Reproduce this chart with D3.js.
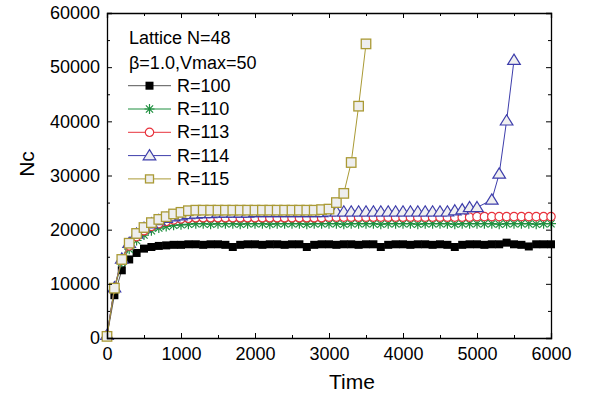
<!DOCTYPE html>
<html>
<head>
<meta charset="utf-8">
<script src="https://cdn.jsdelivr.net/npm/d3@7"></script>
<style>
  body { margin: 0; background: #fff; }
  svg { font-family: "Liberation Sans", Arial, sans-serif; }
  .axis path, .axis line { stroke: #000; }
  .axis text { font-size: 18px; fill: #000; }
</style>
</head>
<body>
<svg id="chart" width="594" height="399"></svg>
<script>
// time steps (shared by all series)
const times = [0,100,200,300,400,500,600,700,800,900,1000,1100,1200,1300,1400,1500,1600,1700,1800,1900,
  2000,2100,2200,2300,2400,2500,2600,2700,2800,2900,3000,3100,3200,3300,3400,3500,3600,3700,3800,3900,
  4000,4100,4200,4300,4400,4500,4600,4700,4800,4900,5000,5100,5200,5300,5400,5500,5600,5700,5800,5900,6000];

const r100 = [400,7900,12500,14500,15700,16500,16800,17000,17100,17200,17200,17300,17300,17200,17300,17300,17200,16800,17200,17300,
  17300,17200,17300,17300,17200,17300,17300,16800,17200,17300,17300,17200,17300,17300,17200,17300,17300,16800,17200,17300,
  17300,17200,17300,17300,17200,17300,17200,16800,17200,17300,17300,17200,17300,17300,17600,17300,17200,16900,17300,17300,17300];

const r110 = [500,9000,14000,16400,18000,19000,19800,20300,20600,20800,20900,21000,21100,21100,21000,21100,21100,21100,21000,21100,
  21100,21100,21000,21100,21100,21100,21100,21000,21100,21100,21100,21100,21000,21100,21100,21100,21100,21000,21100,21100,
  21100,21100,21000,21100,21100,21100,21100,21000,21100,21100,21100,21100,21100,21000,21100,21100,21100,21100,21000,21100,21100];

const r113 = [500,9100,14400,17000,18700,19800,20600,21100,21500,21800,22000,22100,22200,22200,22200,22200,22200,22200,22200,22200,
  22200,22200,22200,22200,22200,22200,22200,22200,22200,22200,22300,22300,22300,22300,22300,22300,22300,22300,22300,22300,
  22300,22300,22300,22300,22300,22300,22300,22300,22300,22300,22400,22400,22400,22400,22400,22400,22400,22400,22400,22400,22400];

const r114 = [500,9300,14600,17500,19200,20300,21100,21700,22100,22400,22600,22800,22900,23000,23000,23100,23100,23100,23100,23100,
  23200,23200,23200,23200,23200,23200,23200,23200,23200,23200,23300,23300,23300,23300,23300,23300,23300,23300,23300,23300,
  23300,23300,23300,23300,23300,23300,23300,23500,23700,24100,24100,null,25500,30300,40100,51300];

const r115 = [300,9200,14500,17500,19300,20400,21300,21900,22400,22900,23200,23500,23600,23600,23600,23600,23600,23600,23600,23600,
  23600,23600,23600,23600,23600,23600,23600,23600,23600,23700,23800,25000,26700,32400,42800,54300];

const seriesNames = ["R=100","R=110","R=113","R=114","R=115"];
const seriesValues = [r100, r110, r113, r114, r115];

const xTicks = [0,1000,2000,3000,4000,5000,6000];
const yTicks = [0,10000,20000,30000,40000,50000,60000];
const legendTitle = ["Lattice N=48", "\u03b2=1.0,Vmax=50"];

const styles = [
  { line: "#555", stroke: "#000", fill: "#000", shape: "square", size: 8 },
  { line: "#1f8f3f", stroke: "#1f8f3f", fill: "none", shape: "star", size: 5 },
  { line: "#e8323c", stroke: "#e8323c", fill: "#fff", shape: "circle", size: 4.2 },
  { line: "#3d3dab", stroke: "#3d3dab", fill: "#f0f0f0", shape: "triangle", size: 6 },
  { line: "#aa9a35", stroke: "#aa9a35", fill: "#eeeeee", shape: "square", size: 9.5 }
];

const svg = d3.select("#chart");
const x = d3.scaleLinear().domain([0, 6000]).range([107, 551]);
const y = d3.scaleLinear().domain([0, 60000]).range([338, 13]);

function drawMarker(g, st) {
  const s = st.size;
  if (st.shape === "square") {
    g.append("rect").attr("x", -s / 2).attr("y", -s / 2).attr("width", s).attr("height", s)
      .attr("fill", st.fill).attr("stroke", st.stroke).attr("stroke-width", st.fill === "#000" ? 0 : 1.3);
  } else if (st.shape === "circle") {
    g.append("circle").attr("r", s).attr("fill", st.fill).attr("stroke", st.stroke).attr("stroke-width", 1.2);
  } else if (st.shape === "triangle") {
    g.append("path").attr("d", `M0,${-s}L${s * 1.05},${s * 0.7}L${-s * 1.05},${s * 0.7}Z`)
      .attr("fill", st.fill).attr("stroke", st.stroke).attr("stroke-width", 1.2);
  } else if (st.shape === "star") {
    const d = s * 0.72;
    g.append("path").attr("d", `M0,${-s}V${s}M${-s},0H${s}M${-d},${-d}L${d},${d}M${-d},${d}L${d},${-d}`)
      .attr("fill", "none").attr("stroke", st.stroke).attr("stroke-width", 1.2);
  }
}

const plot = svg.append("g");
seriesValues.forEach((vals, i) => {
  const st = styles[i];
  const pts = vals.map((v, j) => ({ t: times[j], v: v })).filter(d => d.v !== null);
  const line = d3.line().x(d => x(d.t)).y(d => y(d.v));
  const g = plot.append("g");
  g.append("path").datum(pts).attr("d", line).attr("fill", "none")
    .attr("stroke", st.line).attr("stroke-width", 1);
  g.selectAll("g.m").data(pts).enter().append("g").attr("class", "m")
    .attr("transform", d => `translate(${x(d.t)},${y(d.v)})`)
    .each(function () { drawMarker(d3.select(this), st); });
});

// axes with inward ticks on all sides
const xMinor = d3.range(500, 6000, 1000);
const yMinor = d3.range(5000, 60000, 10000);

svg.append("g").attr("class", "axis").attr("transform", "translate(0,338)")
  .call(d3.axisBottom(x).tickValues(xTicks).tickSize(-5).tickPadding(9).tickFormat(d3.format("d")));
svg.append("g").attr("class", "axis").attr("transform", "translate(0,338)")
  .call(d3.axisBottom(x).tickValues(xMinor).tickSize(-3).tickFormat("")).select(".domain").remove();
svg.append("g").attr("class", "axis").attr("transform", "translate(0,13)")
  .call(d3.axisTop(x).tickValues(xTicks).tickSize(-5).tickFormat(""));
svg.append("g").attr("class", "axis").attr("transform", "translate(0,13)")
  .call(d3.axisTop(x).tickValues(xMinor).tickSize(-3).tickFormat("")).select(".domain").remove();

svg.append("g").attr("class", "axis").attr("transform", "translate(107,0)")
  .call(d3.axisLeft(y).tickValues(yTicks).tickSize(-5).tickPadding(7).tickFormat(d3.format("d")));
svg.append("g").attr("class", "axis").attr("transform", "translate(107,0)")
  .call(d3.axisLeft(y).tickValues(yMinor).tickSize(-3).tickFormat("")).select(".domain").remove();
svg.append("g").attr("class", "axis").attr("transform", "translate(551,0)")
  .call(d3.axisRight(y).tickValues(yTicks).tickSize(-5).tickFormat(""));
svg.append("g").attr("class", "axis").attr("transform", "translate(551,0)")
  .call(d3.axisRight(y).tickValues(yMinor).tickSize(-3).tickFormat("")).select(".domain").remove();

svg.selectAll(".axis .domain").attr("stroke-width", 1.3);

// axis titles
svg.append("text").attr("x", 352).attr("y", 389).attr("text-anchor", "middle")
  .attr("font-size", 21).text("Time");
svg.append("text").attr("transform", "translate(34,164) rotate(-90)").attr("text-anchor", "middle")
  .attr("font-size", 21).text("Nc");

// legend
const legend = svg.append("g");
legendTitle.forEach((t, i) => {
  legend.append("text").attr("x", 129).attr("y", 43.5 + i * 25).attr("font-size", 18).text(t);
});
seriesNames.forEach((name, i) => {
  const by = 91.7 + i * 23.3;
  const ly = by - 6;
  const st = styles[i];
  legend.append("line").attr("x1", 128).attr("x2", 171).attr("y1", ly).attr("y2", ly)
    .attr("stroke", st.line).attr("stroke-width", 1);
  const m = legend.append("g").attr("transform", `translate(149.5,${ly})`);
  drawMarker(m, Object.assign({}, st, { size: st.shape === "square" ? 8 : st.size }));
  legend.append("text").attr("x", 177).attr("y", by).attr("font-size", 18).text(name);
});
</script>
</body>
</html>
